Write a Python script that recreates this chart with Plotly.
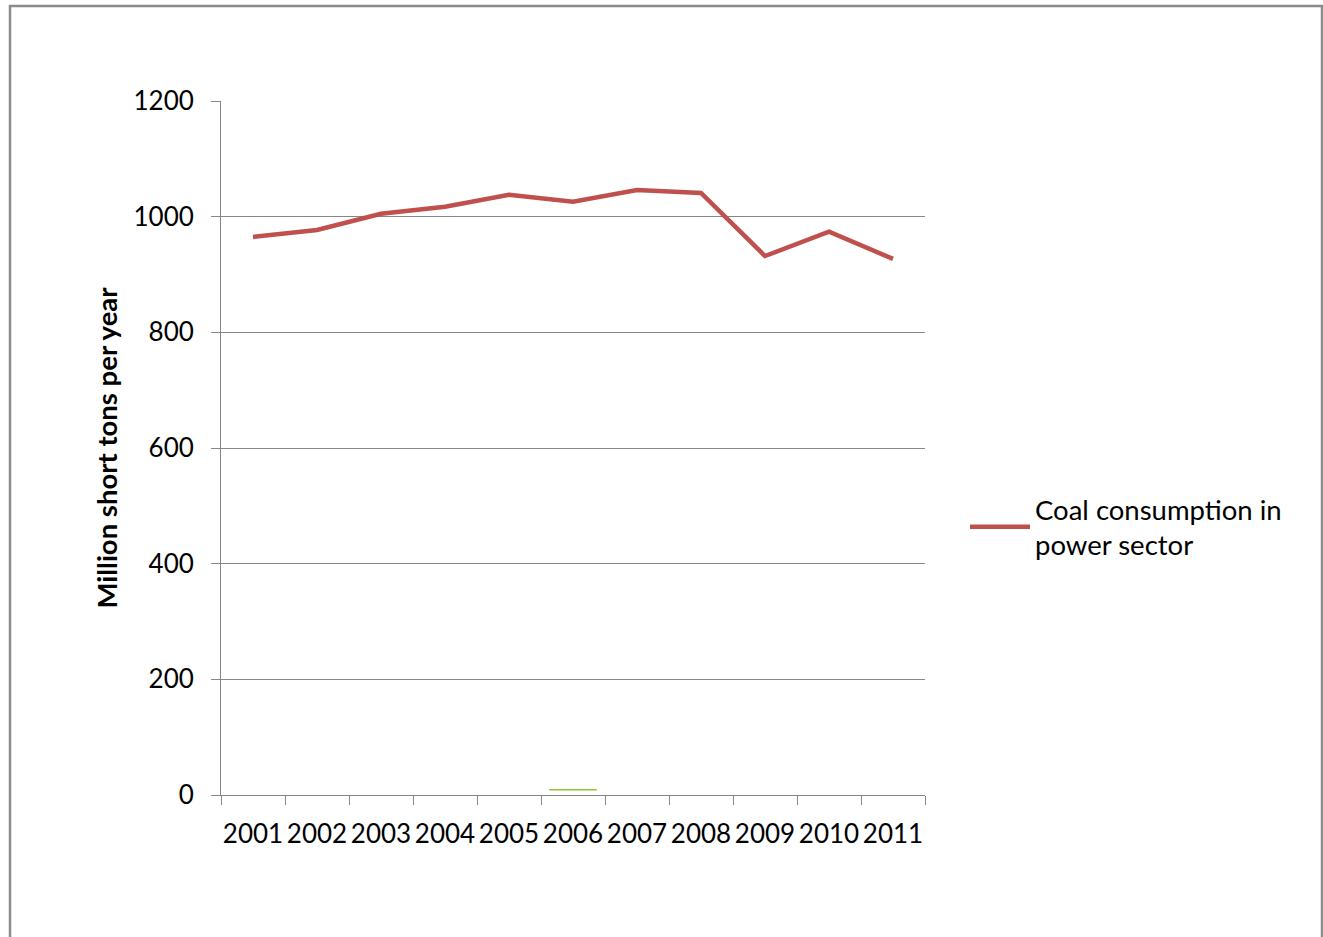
import plotly.graph_objects as go

# Coal consumed by the electric power sector, million short tons per year
years = ["2001", "2002", "2003", "2004", "2005", "2006",
         "2007", "2008", "2009", "2010", "2011"]
coal_consumption = [965, 977, 1005, 1017, 1038, 1026, 1046, 1041, 932, 974, 927]

# Small secondary series visible only near the baseline
minor_years = ["2006"]
minor_values = [9]

y_ticks = [0, 200, 400, 600, 800, 1000, 1200]

W, H = 1323, 937
L, R, T, B = 221, 925, 101, 795

fig = go.Figure()

fig.add_trace(go.Scatter(
    x=years, y=coal_consumption, mode="lines",
    name="Coal consumption in<br>power sector",
    line=dict(color="#c0504d", width=4.5),
))

fig.add_trace(go.Scatter(
    x=minor_years, y=minor_values, mode="markers",
    showlegend=False,
    marker=dict(symbol="line-ew", size=34, line=dict(color="#92c13c", width=1.5)),
))

def px_x(px):
    return (px - L) / (R - L)

def px_y(py):
    return (B - py) / (B - T)

font_family = "Lato, Carlito, Calibri, sans-serif"

fig.update_layout(
    width=W, height=H,
    margin=dict(l=L, r=W - R, t=T, b=H - B, pad=0),
    paper_bgcolor="white", plot_bgcolor="white",
    font=dict(family=font_family, size=26, color="#000000"),
    showlegend=True,
    legend=dict(
        x=px_x(965), y=px_y(527), xanchor="left", yanchor="middle",
        font=dict(size=27.5, color="#000000"),
        bgcolor="rgba(0,0,0,0)", itemwidth=60,
    ),
    xaxis=dict(
        type="category", showgrid=False,
        showline=True, linecolor="#868686", linewidth=1,
        ticks="outside", tickson="boundaries", ticklen=9,
        tickcolor="#868686", tickwidth=1,
        tickfont=dict(size=26), tickangle=0, ticklabelstandoff=16,
        range=[-0.5, 10.5],
    ),
    yaxis=dict(
        range=[0, 1200], tickvals=y_ticks,
        showgrid=True, gridcolor="#868686", gridwidth=1,
        showline=True, linecolor="#868686", linewidth=1,
        ticks="outside", ticklen=9, tickcolor="#868686", tickwidth=1,
        tickfont=dict(size=26), ticklabelstandoff=12, zeroline=False,
        title=dict(text="<b>Million short tons per year</b>",
                   font=dict(size=27.5), standoff=7),
    ),
    shapes=[
        dict(type="rect", xref="paper", yref="paper",
             x0=px_x(10), x1=px_x(1322), y0=px_y(945), y1=px_y(6),
             line=dict(color="#8c8c8c", width=2.5), fillcolor="rgba(0,0,0,0)",
             layer="below"),
    ],
)

fig.write_html("out.html")
